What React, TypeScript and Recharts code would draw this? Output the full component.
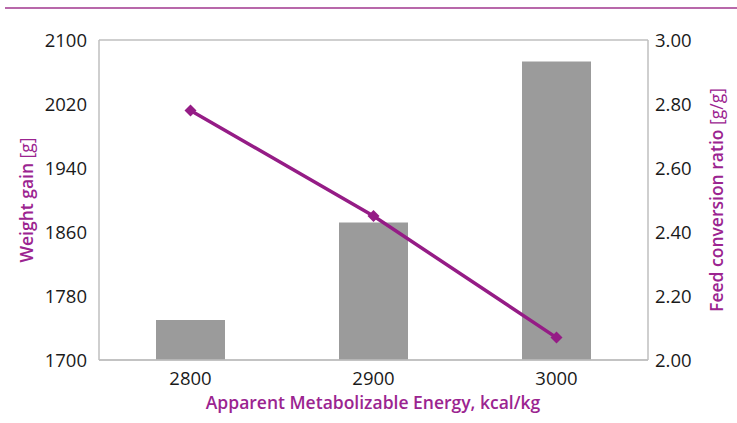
import React from "react";
import {
    ComposedChart,
    Bar,
    Line,
    XAxis,
    YAxis,
    CartesianGrid,
} from "recharts";

// Energy levels on the x axis
const energyLevels = ["2800", "2900", "3000"];
// Weight gain in grams (bars, left axis)
const weightGain = [1750, 1872, 2073];
// Feed conversion ratio g/g (line, right axis)
const feedConversion = [2.78, 2.45, 2.07];

const leftTicks = [1700, 1780, 1860, 1940, 2020, 2100];
const rightTicks = [2.0, 2.2, 2.4, 2.6, 2.8, 3.0];

const data = energyLevels.map((energy, i) => ({
    energy,
    weight: weightGain[i],
    fcr: feedConversion[i],
}));

const PURPLE = "#951c86";
const TITLE_PURPLE = "#9b2490";
const GRID = "#bfbfbf";
const FONT = "'Open Sans', sans-serif";

const tickStyle = { fill: "#1a1a1a", fontSize: 18.5, fontFamily: FONT };
const titleStyle = { fill: TITLE_PURPLE, fontSize: 17.5, fontWeight: 600, fontFamily: FONT };

function Diamond(props: any) {
    const { cx, cy } = props;
    if (cx == null || cy == null) return null;
    const r = 6;
    return (
        <polygon
            points={`${cx},${cy - r} ${cx + r},${cy} ${cx},${cy + r} ${cx - r},${cy}`}
            fill={PURPLE}
        />
    );
}

export default function App() {
    return (
        <div style={{ position: "absolute", left: 0, top: 0, width: 737, height: 423, background: "#fff" }}>
            <div style={{ position: "absolute", left: 5, right: 0, top: 7, height: 2, background: "#b868aa" }} />
            <ComposedChart
                width={737}
                height={423}
                data={data}
                margin={{ top: 40, right: 0, left: 0, bottom: 0 }}
            >
                <CartesianGrid vertical={false} stroke={GRID} strokeWidth={1.5} />
                <XAxis
                    dataKey="energy"
                    height={63}
                    axisLine={{ stroke: GRID, strokeWidth: 1.5 }}
                    tickLine={false}
                    tickSize={0}
                    tickMargin={12}
                    tick={tickStyle}
                    label={{
                        content: () => (
                            <text x={373} y={409} textAnchor="middle" style={titleStyle}>
                                Apparent Metabolizable Energy, kcal/kg
                            </text>
                        ),
                    }}
                />
                <YAxis
                    yAxisId="left"
                    width={99}
                    domain={[1700, 2100]}
                    ticks={leftTicks}
                    axisLine={{ stroke: GRID, strokeWidth: 1.5 }}
                    tickLine={false}
                    tickSize={0}
                    tickMargin={12}
                    tick={tickStyle}
                    label={{
                        content: () => (
                            <text
                                x={33}
                                y={200}
                                textAnchor="middle"
                                transform="rotate(-90 33 200)"
                                style={titleStyle}
                            >
                                Weight gain <tspan fontWeight={400}>[g]</tspan>
                            </text>
                        ),
                    }}
                />
                <YAxis
                    yAxisId="right"
                    orientation="right"
                    width={89}
                    domain={[2, 3]}
                    ticks={rightTicks}
                    tickFormatter={(v: number) => v.toFixed(2)}
                    axisLine={{ stroke: GRID, strokeWidth: 1.5 }}
                    tickLine={false}
                    tickSize={0}
                    tickMargin={7}
                    tick={tickStyle}
                    label={{
                        content: () => (
                            <text
                                x={723}
                                y={200}
                                textAnchor="middle"
                                transform="rotate(-90 723 200)"
                                style={titleStyle}
                            >
                                Feed conversion ratio <tspan fontWeight={400}>[g/g]</tspan>
                            </text>
                        ),
                    }}
                />
                <Bar yAxisId="left" dataKey="weight" fill="#9b9b9b" barSize={69} isAnimationActive={false} />
                <Line
                    yAxisId="right"
                    dataKey="fcr"
                    stroke={PURPLE}
                    strokeWidth={3.5}
                    dot={<Diamond />}
                    activeDot={false}
                    isAnimationActive={false}
                />
            </ComposedChart>
        </div>
    );
}
